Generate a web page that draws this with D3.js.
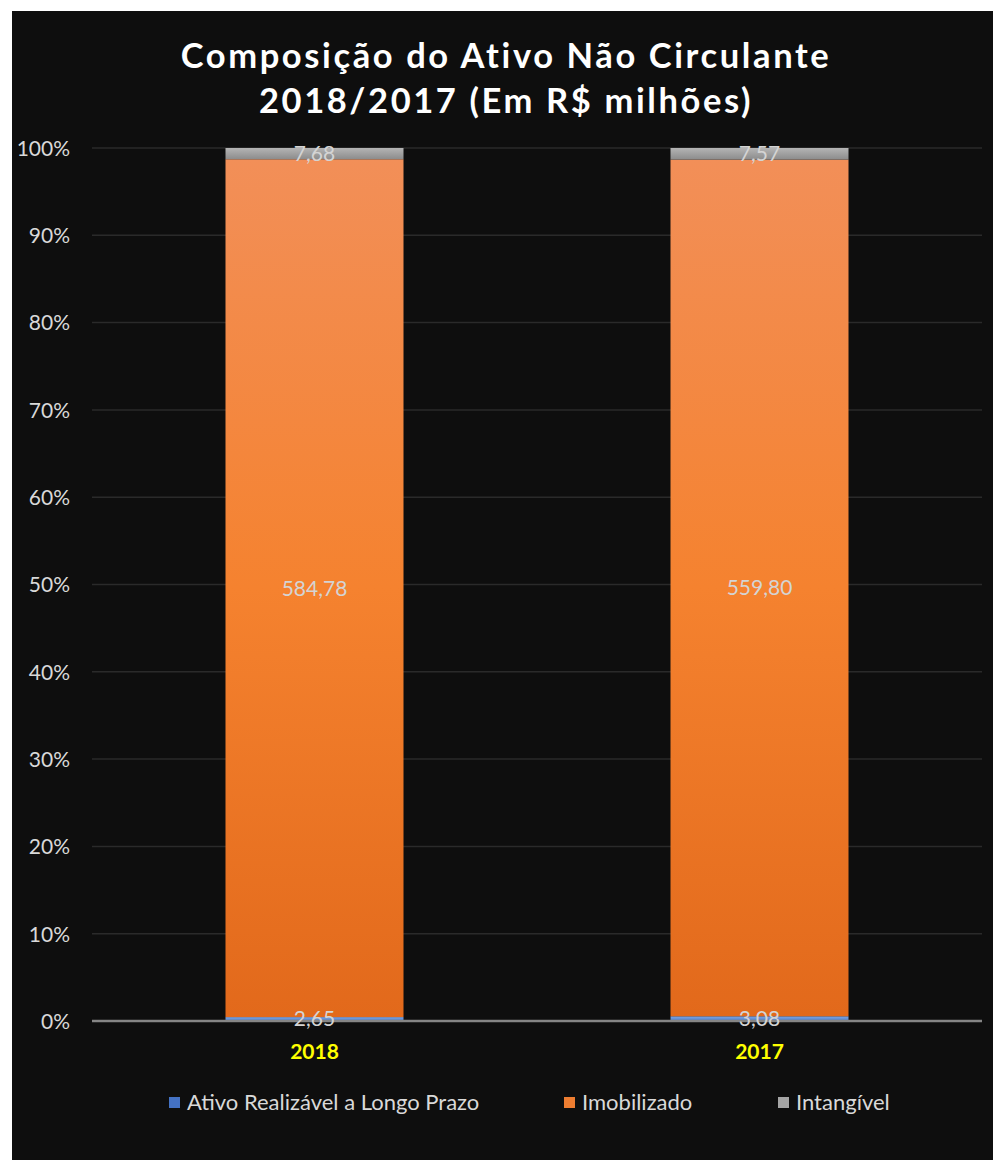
<!DOCTYPE html>
<html>
<head>
<meta charset="utf-8">
<script src="https://cdn.jsdelivr.net/npm/d3@7"></script>
<style>
  html, body { margin: 0; padding: 0; background: #ffffff; }
  svg { display: block; }
</style>
</head>
<body>
<div id="chart"></div>
<script>
// Composição do Ativo Não Circulante, 100% stacked columns
const years = ["2018", "2017"];
const seriesNames = ["Ativo Realizável a Longo Prazo", "Imobilizado", "Intangível"];
const realizavel = [2.65, 3.08];
const imobilizado = [584.78, 559.80];
const intangivel = [7.68, 7.57];
const yTicks = [0, 0.1, 0.2, 0.3, 0.4, 0.5, 0.6, 0.7, 0.8, 0.9, 1.0];

const W = 993, H = 1160;
const FONT = "Lato, 'Open Sans', sans-serif";
const svg = d3.select("#chart").append("svg").attr("width", W).attr("height", H);

const defs = svg.append("defs");
function vGrad(id, stops) {
  const g = defs.append("linearGradient").attr("id", id)
    .attr("x1", 0).attr("y1", 0).attr("x2", 0).attr("y2", 1);
  stops.forEach(s => g.append("stop").attr("offset", s[0]).attr("stop-color", s[1]));
}
vGrad("gBlue", [[0, "#7ea6e6"], [1, "#4a7cc9"]]);
vGrad("gOrange", [[0, "#f28f58"], [0.5, "#f5822f"], [1, "#e2691b"]]);
vGrad("gGray", [[0, "#b4b4b4"], [1, "#8c8c8c"]]);
const fills = ["url(#gBlue)", "url(#gOrange)", "url(#gGray)"];
const legendFills = ["#4472c4", "#ed7d31", "#a5a5a5"];

// chart area background
svg.append("rect").attr("x", 12).attr("y", 11).attr("width", W - 12).attr("height", H - 11)
  .attr("fill", "#0e0e0e");

// title
const title = svg.append("text").attr("text-anchor", "middle")
  .attr("font-family", FONT).attr("font-weight", "bold")
  .attr("font-size", 34.5).attr("letter-spacing", 2.6).attr("fill", "#ffffff");
title.append("tspan").attr("x", 506).attr("y", 68).text("Composição do Ativo Não Circulante");
title.append("tspan").attr("x", 506).attr("y", 113).text("2018/2017 (Em R$ milhões)");

const plotLeft = 92, plotRight = 982, plotTop = 148, plotBottom = 1021;
const x = d3.scaleBand().domain(years).range([plotLeft, plotRight]).paddingInner(0.6).paddingOuter(0.3);
const y = d3.scaleLinear().domain([0, 1]).range([plotBottom, plotTop]);

// gridlines
svg.append("g").selectAll("line").data(yTicks.filter(t => t > 0)).join("line")
  .attr("x1", plotLeft).attr("x2", plotRight)
  .attr("y1", d => y(d)).attr("y2", d => y(d))
  .attr("stroke", "#2a2a2a").attr("stroke-width", 1.5);

// y axis labels
const yAxis = d3.axisLeft(y).tickValues(yTicks).tickFormat(d3.format(".0%")).tickSize(0).tickPadding(0);
const ya = svg.append("g").attr("transform", `translate(70,0)`).call(yAxis);
ya.select(".domain").remove();
ya.selectAll("text").attr("font-family", FONT).attr("font-size", 21)
  .attr("fill", "#d9d9d9").attr("dy", "0.35em");

// stacked data, normalised per year
const rows = years.map((yr, i) => ({ year: yr, s0: realizavel[i], s1: imobilizado[i], s2: intangivel[i] }));
const stack = d3.stack().keys(["s0", "s1", "s2"]).offset(d3.stackOffsetExpand);
const layers = stack(rows);

const gBars = svg.append("g");
layers.forEach((layer, li) => {
  gBars.selectAll(null).data(layer).join("rect")
    .attr("x", d => x(d.data.year))
    .attr("width", x.bandwidth())
    .attr("y", d => y(d[1]))
    .attr("height", d => y(d[0]) - y(d[1]))
    .attr("fill", fills[li]);
});

// x axis line
svg.append("line").attr("x1", plotLeft).attr("x2", plotRight).attr("y1", plotBottom).attr("y2", plotBottom)
  .attr("stroke", "#858585").attr("stroke-width", 2.5);

// data labels
const fmt = v => v.toFixed(2).replace(".", ",");
layers.forEach((layer, li) => {
  svg.append("g").selectAll("text").data(layer).join("text")
    .attr("x", d => x(d.data.year) + x.bandwidth() / 2)
    .attr("y", d => (y(d[0]) + y(d[1])) / 2)
    .attr("dy", "0.35em")
    .attr("text-anchor", "middle")
    .attr("font-family", FONT).attr("font-size", 21)
    .attr("fill", "#d4d4d4")
    .text(d => fmt(d.data["s" + li]));
});

// category labels
const xAxis = d3.axisBottom(x).tickSize(0).tickPadding(0);
const xa = svg.append("g").attr("transform", `translate(0,1059)`).call(xAxis);
xa.select(".domain").remove();
xa.selectAll("text").attr("dy", 0).attr("font-family", FONT)
  .attr("font-weight", "bold").attr("font-size", 21).attr("fill", "#ffff00");

// legend
const legendX = [169, 564, 778];
const lg = svg.append("g");
seriesNames.forEach((n, i) => {
  lg.append("rect").attr("x", legendX[i]).attr("y", 1097).attr("width", 11).attr("height", 11)
    .attr("fill", legendFills[i]);
  lg.append("text").attr("x", legendX[i] + 18).attr("y", 1110)
    .attr("font-family", FONT).attr("font-size", 22)
    .attr("fill", "#d9d9d9").text(n);
});
</script>
</body>
</html>
